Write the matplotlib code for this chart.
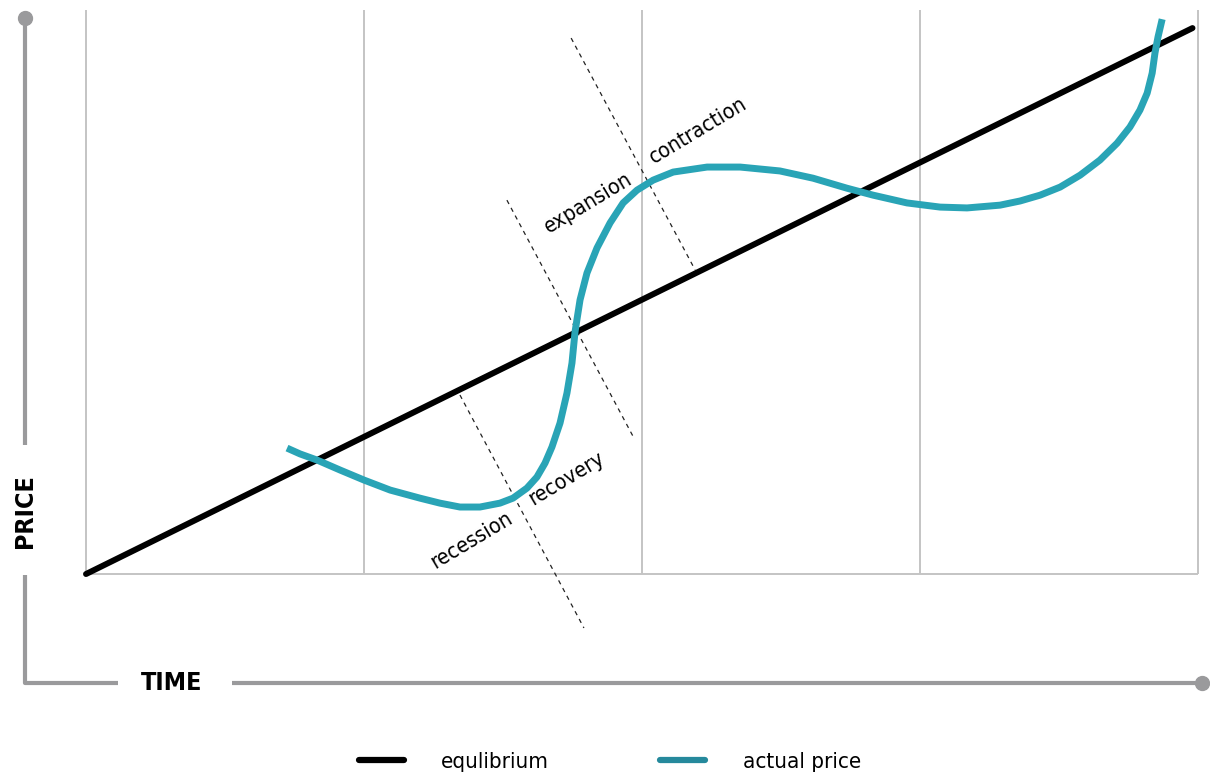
import numpy as np
import matplotlib
matplotlib.use('Agg')
import matplotlib.pyplot as plt
from matplotlib.lines import Line2D

# 字体: 尽量用窄体
plt.rcParams['font.family'] = ['DejaVu Sans']
plt.rcParams['font.stretch'] = 'condensed'

# 数据 (时间 0-4, 价格与时间同一比例)
time_grid = [0, 1, 2, 3, 4]
equil_t = [0, 3.98]
equil_p = [0, 1.964]

price_t = [0.723, 0.770, 0.831, 0.914, 1.000, 1.094, 1.201, 1.273, 1.345, 1.417,
           1.489, 1.536, 1.586, 1.622, 1.651, 1.676, 1.705, 1.730, 1.748, 1.759,
           1.777, 1.802, 1.838, 1.885, 1.932, 1.982, 2.040, 2.112, 2.234, 2.353,
           2.496, 2.615, 2.737, 2.831, 2.953, 3.072, 3.169, 3.288, 3.360, 3.432,
           3.504, 3.576, 3.647, 3.709, 3.755, 3.791, 3.817, 3.835, 3.845, 3.856,
           3.871]
price_p = [0.453, 0.432, 0.410, 0.374, 0.338, 0.302, 0.273, 0.255, 0.241, 0.241,
           0.255, 0.273, 0.309, 0.349, 0.399, 0.457, 0.543, 0.651, 0.759, 0.871,
           0.986, 1.083, 1.173, 1.263, 1.335, 1.381, 1.417, 1.446, 1.464, 1.464,
           1.450, 1.424, 1.388, 1.363, 1.335, 1.320, 1.317, 1.327, 1.342, 1.363,
           1.392, 1.435, 1.489, 1.550, 1.608, 1.669, 1.730, 1.802, 1.874, 1.932,
           1.996]

# 阶段分隔虚线 (起点, 终点)
phase_t = [[1.345, 1.791], [1.514, 1.971], [1.745, 2.191]]
phase_p = [[0.644, -0.194], [1.345, 0.489], [1.928, 1.094]]
phase_labels = ['recession', 'recovery', 'expansion', 'contraction']
label_t = [1.385, 1.727, 1.806, 2.201]
label_p = [0.122, 0.345, 1.335, 1.594]

teal = '#29a4b6'
teal_dark = '#25899c'
grey = '#9a9a9c'

fig = plt.figure(figsize=(12.1, 7.8), dpi=100)
ax = fig.add_axes([0, 0, 1, 1])
ax.set_xlim(-0.3094, 4.043)
ax.set_ylim(-0.741, 2.065)
ax.axis('off')

# 网格线
ax.vlines(time_grid, 0, 2.03, color='#c4c4c4', lw=1.4, zorder=1)
ax.hlines(0, 0, 4, color='#c4c4c4', lw=1.4, zorder=1)

# 虚线
for ts, ps in zip(phase_t, phase_p):
    ax.plot(ts, ps, color='#222222', lw=0.9, ls=(0, (3.5, 3.5)), zorder=2)

# 主线
ax.plot(equil_t, equil_p, color='black', lw=4.3, solid_capstyle='round', zorder=3)
ax.plot(price_t, price_p, color=teal, lw=5, solid_capstyle='butt', solid_joinstyle='round', zorder=4)

for lab, tx, py in zip(phase_labels, label_t, label_p):
    ax.text(tx, py, lab, rotation=31, ha='center', va='center', fontsize=15.5, rotation_mode='anchor')

# 坐标轴箭头
ax.plot([-0.219, -0.219], [2.0, 0.464], color=grey, lw=3, solid_capstyle='butt')
ax.plot([-0.219, -0.219, 0.115], [-0.004, -0.392, -0.392], color=grey, lw=3, solid_capstyle='butt')
ax.plot([0.525, 4.007], [-0.392, -0.392], color=grey, lw=3, solid_capstyle='butt')
ax.plot([-0.219], [2.0], 'o', color=grey, ms=10)
ax.plot([4.015], [-0.392], 'o', color=grey, ms=10)
ax.text(-0.219, 0.227, 'PRICE', rotation=90, ha='center', va='center', fontsize=18, fontweight='bold')
ax.text(0.309, -0.392, 'TIME', ha='center', va='center', fontsize=18, fontweight='bold')

# 图例
handles = [Line2D([], [], color='black', lw=4.5, solid_capstyle='round'),
           Line2D([], [], color=teal_dark, lw=4.5, solid_capstyle='round')]
fig.legend(handles, ['equlibrium', 'actual price'], loc='center',
           bbox_to_anchor=(610 / 1210, 1 - 762 / 780), ncol=2, frameon=False,
           fontsize=16, handlelength=2.0, handletextpad=1.7, columnspacing=5.0)

fig.savefig('out.png', dpi=100)
